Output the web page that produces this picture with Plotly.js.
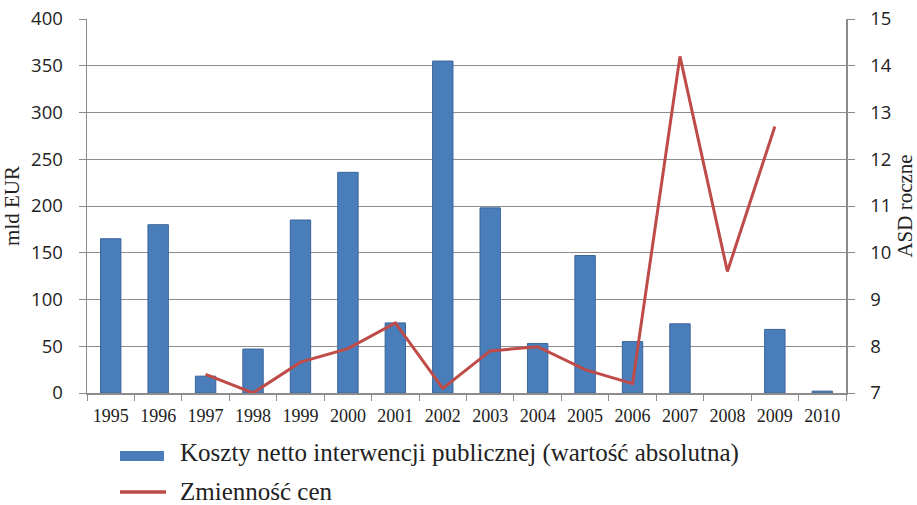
<!DOCTYPE html>
<html><head><meta charset="utf-8">
<script src="https://cdn.plot.ly/plotly-3.0.1.min.js"></script>
<style>body{margin:0;background:#fff}#c{width:917px;height:505px}</style>
</head><body><div id="c"></div>
<script>
const years = ['1995','1996','1997','1998','1999','2000','2001','2002','2003','2004','2005','2006','2007','2008','2009','2010'];
const costs = [165,180,18,47,185,236,75,355,198,53,147,55,74,null,68,2];
const volatility = [null,null,7.4,7.0,7.66,7.95,8.5,7.1,7.9,7.99,7.5,7.2,14.2,9.6,12.7,null];
const leftTicks = [0,50,100,150,200,250,300,350,400];
const rightTicks = [7,8,9,10,11,12,13,14,15];
const barName = 'Koszty netto interwencji publicznej (wartość absolutna)';
const lineName = 'Zmienność cen';

const grid = '#8c8c8c';
const serif = 'Liberation Serif, Times New Roman, serif';
const sans = 'Open Sans, Liberation Sans, sans-serif';
const traces = [
  {type:'bar', x:years, y:costs, name:barName, yaxis:'y',
   marker:{color:'#4a7ebb', line:{color:'#3a649a', width:1}}, showlegend:false},
  {type:'scatter', mode:'lines', x:years, y:volatility, name:lineName, yaxis:'y2',
   line:{color:'#be4b48', width:3}, connectgaps:false, showlegend:false}
];
const layout = {
  width:917, height:505,
  margin:{l:87, r:71, t:19, b:112},
  paper_bgcolor:'#fff', plot_bgcolor:'#fff',
  bargap:0.57,
  showlegend:false,
  xaxis:{type:'category', tickson:'boundaries', ticks:'outside', ticklen:6, tickcolor:grid,
    showline:true, linecolor:grid, linewidth:1.5, showgrid:false, mirror:false,
    ticklabelstandoff:6,
    tickfont:{family:serif, size:18, color:'#222'}},
  yaxis:{range:[0,400], tickvals:leftTicks, ticks:'outside', ticklen:7, tickcolor:grid,
    showline:true, linecolor:grid, linewidth:1.5, gridcolor:grid, gridwidth:1, zeroline:false,
    ticklabelstandoff:12,
    tickfont:{family:sans, size:18.5, color:'#222'},
    title:{text:'mld EUR', standoff:8, font:{family:serif, size:21, color:'#222'}}},
  yaxis2:{range:[7,15], tickvals:rightTicks, overlaying:'y', side:'right', ticks:'outside', ticklen:7, tickcolor:grid,
    showline:true, linecolor:grid, linewidth:1.5, showgrid:false, zeroline:false,
    ticklabelstandoff:12,
    tickfont:{family:sans, size:18.5, color:'#222'},
    title:{text:'ASD roczne', standoff:6, font:{family:serif, size:21, color:'#222'}}},
  shapes:[
    {type:'rect', xref:'paper', yref:'paper', x0:(120-87)/759, x1:(164-87)/759, y0:(393-461)/374, y1:(393-451)/374,
     fillcolor:'#4a7ebb', line:{width:0}},
    {type:'line', xref:'paper', yref:'paper', x0:(120-87)/759, x1:(166-87)/759, y0:(393-492)/374, y1:(393-492)/374,
     line:{color:'#be4b48', width:3.5}}
  ],
  annotations:[
    {xref:'paper', yref:'paper', x:(178-87)/759, y:(393-453)/374, xanchor:'left', yanchor:'middle', showarrow:false,
     text:barName, font:{family:serif, size:25, color:'#222'}},
    {xref:'paper', yref:'paper', x:(178-87)/759, y:(393-491)/374, xanchor:'left', yanchor:'middle', showarrow:false,
     text:lineName, font:{family:serif, size:25, color:'#222'}}
  ]
};
Plotly.newPlot('c', traces, layout, {displayModeBar:false, staticPlot:true});
</script></body></html>
